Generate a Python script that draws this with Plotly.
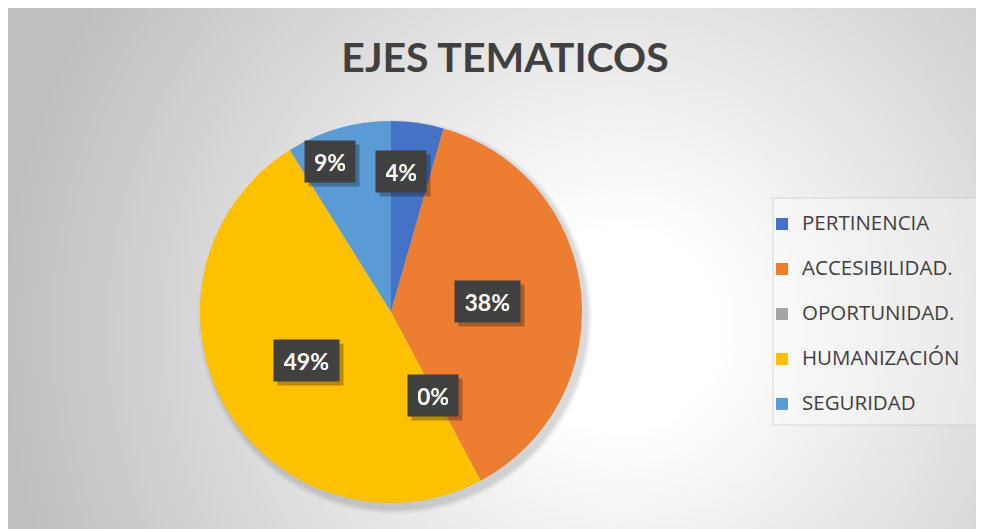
import base64
import math
import plotly.graph_objects as go

# --- datos ---
ejes = ["PERTINENCIA", "ACCESIBILIDAD.", "OPORTUNIDAD.", "HUMANIZACIÓN", "SEGURIDAD"]
conteo = [2, 17, 0, 22, 4]
colores = ["#4472C4", "#ED7D31", "#A5A5A5", "#FFC000", "#5B9BD5"]

# posicion de etiquetas (radio relativo y ajuste angular, estilo "best fit")
label_r = [0.74, 0.51, 0.49, 0.51, 0.85]
label_nudge = [-4, 0, 1, 0, -6]

# la pagina tiene 8px de margen en body -> figura de 976x521
W, H = 976, 521
# geometria del pastel en pixeles (coordenadas de la figura)
cx_px, cy_px, R_px = 383, 304, 191
dom_x = [(cx_px - R_px) / W, (cx_px + R_px) / W]
dom_y = [(H - cy_px - R_px) / H, (H - cy_px + R_px) / H]

# --- fondo degradado radial (estilo Excel) ---
svg = """<svg xmlns='http://www.w3.org/2000/svg' width='976' height='521' viewBox='0 0 976 521' preserveAspectRatio='none'>
<defs><radialGradient id='g' gradientUnits='userSpaceOnUse' cx='612' cy='322' r='620'>
<stop offset='0' stop-color='#ffffff'/><stop offset='0.16' stop-color='#ffffff'/>
<stop offset='1' stop-color='#bfbfbf'/></radialGradient></defs>
<rect width='976' height='521' fill='url(#g)'/></svg>"""
bg_src = "data:image/svg+xml;base64," + base64.b64encode(svg.encode()).decode()

# texto de leyenda: primera linea grande, segunda vacia para el espaciado
legend_labels = [f"<span style='font-size:20.5px'>{e}</span><br> " for e in ejes]

fig = go.Figure(go.Pie(
    labels=legend_labels,
    values=conteo,
    marker=dict(colors=colores, line=dict(width=0)),
    sort=False,
    direction="clockwise",
    rotation=0,
    textinfo="none",
    hoverinfo="label+percent",
    domain=dict(x=dom_x, y=dom_y),
))

# sombra suave del pastel
shapes = []
for i, op in enumerate([0.04, 0.05, 0.06]):
    rr = R_px + 6 - i * 2
    shapes.append(dict(
        type="circle", xref="paper", yref="paper", layer="below",
        x0=(cx_px + 4 - rr) / W, x1=(cx_px + 4 + rr) / W,
        y0=(H - cy_px - 5 - rr) / H, y1=(H - cy_px - 5 + rr) / H,
        fillcolor=f"rgba(0,0,0,{op})", line=dict(width=0),
    ))
# caja de la leyenda
shapes.append(dict(type="rect", xref="paper", yref="paper", layer="below",
                   x0=765 / W, x1=974 / W, y0=1 - 417 / H, y1=1 - 190 / H,
                   fillcolor="rgba(255,255,255,0.3)",
                   line=dict(color="rgba(190,190,190,0.5)", width=1)))

# etiquetas de porcentaje en cajas oscuras
total = sum(conteo)
annotations = []
acum = 0
for v, rf, nd in zip(conteo, label_r, label_nudge):
    mid = (acum + v / 2) / total * 360 + nd
    acum += v
    ang = math.radians(mid)
    px = cx_px + rf * R_px * math.sin(ang)
    py = cy_px - rf * R_px * math.cos(ang)
    txt = f"{round(100 * v / total)}%"
    common = dict(xref="paper", yref="paper", x=px / W, y=1 - py / H,
                  xanchor="center", yanchor="middle", showarrow=False,
                  width=14.5 * len(txt) + 1, height=21, borderpad=10)
    annotations.append(dict(common, text=" ", font=dict(size=23),
                            bgcolor="rgba(0,0,0,0.28)", xshift=4, yshift=-4))
    annotations.append(dict(common, text=f"<b>{txt}</b>",
                            font=dict(size=23, color="white", family="Lato"),
                            bgcolor="#404040"))

fig.update_layout(
    width=W, height=H,
    margin=dict(l=0, r=0, t=0, b=0),
    paper_bgcolor="#c8c8c8",
    images=[dict(source=bg_src, xref="paper", yref="paper",
                 x=0, y=1, sizex=1, sizey=1,
                 xanchor="left", yanchor="top", sizing="stretch", layer="below")],
    shapes=shapes,
    annotations=annotations,
    title=dict(text="<b>EJES TEMATICOS</b>", x=497 / W, y=1 - 50 / H,
               xanchor="center", yanchor="middle",
               font=dict(family="Lato", size=41, color="#404040")),
    legend=dict(x=754 / W, y=1 - 199 / H, xanchor="left", yanchor="top",
                valign="top", itemwidth=30,
                bgcolor="rgba(0,0,0,0)", borderwidth=0,
                font=dict(family="Open Sans", size=16.15, color="#404040")),
    showlegend=True,
)

fig.write_html("out.html")
